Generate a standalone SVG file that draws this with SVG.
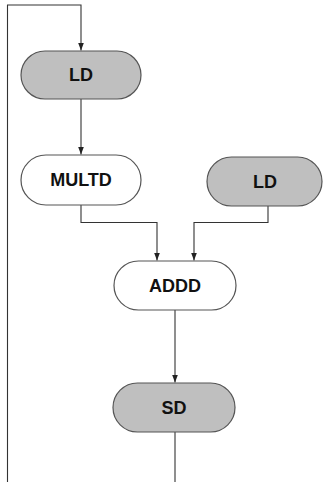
<svg xmlns="http://www.w3.org/2000/svg" width="324" height="482" viewBox="0 0 324 482">
  <defs>
    <marker id="arrow" viewBox="0 0 8 6" refX="8" refY="3" markerWidth="8" markerHeight="6" markerUnits="userSpaceOnUse" orient="auto">
      <path d="M0,0 L8,3 L0,6 Z" fill="#222"/>
    </marker>
    <style>
      .pill { stroke: #555; stroke-width: 1.2; }
      .gray { fill: #bfbfbf; }
      .white { fill: #ffffff; }
      .label { font-family: "Liberation Sans", Arial, sans-serif; font-weight: bold; font-size: 18px; fill: #111; text-anchor: middle; dominant-baseline: central; }
      .wire { fill: none; stroke: #333; stroke-width: 1.1; }
    </style>
  </defs>
  <rect width="324" height="482" fill="#ffffff"/>

  <g id="connectors">
    <!-- loop-back from the bottom into the first load -->
    <path class="wire" d="M7.5,482 V5 H81 V50.5" marker-end="url(#arrow)"/>
    <!-- LD to MULTD -->
    <path class="wire" d="M81,99 V154.5" marker-end="url(#arrow)"/>
    <!-- MULTD to ADDD -->
    <path class="wire" d="M81,205 V222.5 H157 V260.5" marker-end="url(#arrow)"/>
    <!-- second LD to ADDD -->
    <path class="wire" d="M268,206 V222.5 H194 V260.5" marker-end="url(#arrow)"/>
    <!-- ADDD to SD -->
    <path class="wire" d="M175,310 V382.5" marker-end="url(#arrow)"/>
    <!-- SD onward -->
    <path class="wire" d="M175,432 V482"/>
  </g>

  <g id="ld1">
    <rect class="pill gray" x="21" y="51" width="120" height="48" rx="24" ry="24"/>
    <text class="label" x="81" y="75">LD</text>
  </g>

  <g id="multd">
    <rect class="pill white" x="21" y="155" width="120" height="50" rx="25" ry="25"/>
    <text class="label" x="81" y="180">MULTD</text>
  </g>

  <g id="ld2">
    <rect class="pill gray" x="207" y="157" width="115" height="49" rx="24.5" ry="24.5"/>
    <text class="label" x="265" y="181.5">LD</text>
  </g>

  <g id="addd">
    <rect class="pill white" x="114" y="261" width="122" height="49" rx="24.5" ry="24.5"/>
    <text class="label" x="175" y="285.5">ADDD</text>
  </g>

  <g id="sd">
    <rect class="pill gray" x="113" y="383" width="122" height="49" rx="24.5" ry="24.5"/>
    <text class="label" x="174" y="407.5">SD</text>
  </g>
</svg>
